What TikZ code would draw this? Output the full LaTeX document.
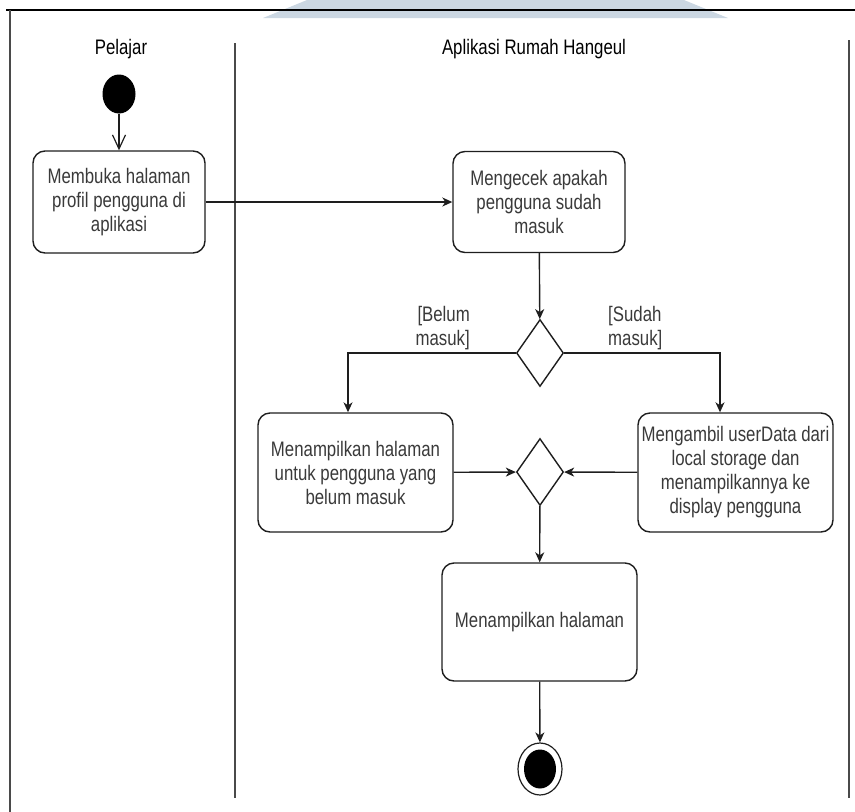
\documentclass[tikz,border=0pt]{standalone}
\usepackage{fontspec}
\setmainfont[FakeStretch=0.8]{Liberation Sans}
\usetikzlibrary{shapes.geometric,arrows.meta}
\definecolor{txt}{HTML}{3A3A3A}
\definecolor{ln}{HTML}{1E1E1E}
\definecolor{lanecol}{HTML}{4A4A4A}
\definecolor{bandcol}{HTML}{CBD7E2}
\begin{document}
\begin{tikzpicture}[x=1pt,y=-1pt,
  font=\fontsize{21}{24}\selectfont,
  actbox/.style={draw=ln,line width=1.4pt,rounded corners=12pt,fill=white,
    align=center,text=txt,inner sep=0pt},
  choice/.style={draw=ln,line width=1.4pt,diamond,fill=white,inner sep=0pt,
    minimum width=47pt,minimum height=67pt},
  arr/.style={draw=ln,line width=1.4pt,-{Stealth[length=10pt,width=9pt,inset=3pt]}},
  openarr/.style={draw=ln,line width=1.2pt,-{Straight Barb[length=14pt,width=13pt]}},
  guard/.style={text=txt,inner sep=0pt},
  lanehead/.style={text=black,inner sep=0pt}]
\useasboundingbox (0,0) rectangle (855,812);

% faint band at the top edge
\fill[bandcol] (307,0) -- (684,0) -- (728,18) -- (263,18) -- cycle;

% frame and swimlane lines
\draw[black,line width=1.6pt] (6,10) -- (855,10);
\draw[lanecol,line width=1.8pt] (10,10) -- (10,812);
\draw[lanecol,line width=1.8pt] (235,43) -- (235,798);
\draw[lanecol,line width=2pt] (849,40) -- (849,798);

% lane titles
\node[lanehead] (laneA) at (121,49) {Pelajar};
\node[lanehead] (laneB) at (534,49) {Aplikasi Rumah Hangeul};

% initial and final states
\node[ellipse,fill=black,minimum width=33pt,minimum height=39pt,inner sep=0pt] (start) at (119,94) {};
\node[ellipse,draw=ln,line width=1.2pt,fill=white,minimum width=44pt,minimum height=52pt,inner sep=0pt] (stop) at (540,769) {};
\node[ellipse,fill=black,minimum width=32pt,minimum height=39pt,inner sep=0pt] (stopdot) at (540,769) {};

% activities
\node[actbox,minimum width=172pt,minimum height=102pt] (open) at (119,202)
  {Membuka halaman\\profil pengguna di\\aplikasi};
\node[actbox,minimum width=172pt,minimum height=101pt] (check) at (539,202)
  {Mengecek apakah\\pengguna sudah\\masuk};
\node[actbox,minimum width=195pt,minimum height=119pt] (guest) at (355.5,472.5)
  {Menampilkan halaman\\untuk pengguna yang\\belum masuk};
\node[actbox,minimum width=195pt,minimum height=119pt] (fetch) at (735.5,472.5)
  {Mengambil userData dari\\local storage dan\\menampilkannya ke\\display pengguna};
\node[actbox,minimum width=195pt,minimum height=118pt] (show) at (539.5,622)
  {Menampilkan halaman};

% decision and merge
\node[choice] (dec) at (540,353) {};
\node[choice] (merge) at (540,472) {};

% guards
\node[guard,anchor=east,align=right] (gno) at (470,328) {[Belum\\masuk]};
\node[guard,anchor=west,align=left] (gyes) at (608,328) {[Sudah\\masuk]};

% flows
\draw[openarr] (start) -- (open);
\draw[arr] (open) -- (check);
\draw[arr] (check) -- (dec);
\draw[arr] (dec.west) -| ([xshift=-7.5pt]guest.north);
\draw[arr] (dec.east) -| ([xshift=-15.5pt]fetch.north);
\draw[arr] (guest) -- (merge);
\draw[arr] (fetch) -- (merge);
\draw[arr] (merge) -- (show);
\draw[arr] (show) -- (stop);
\end{tikzpicture}
\end{document}
